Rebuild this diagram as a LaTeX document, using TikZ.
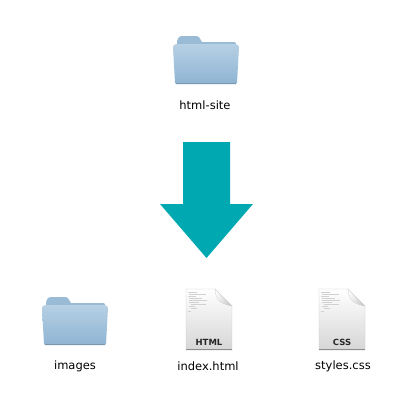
\documentclass[tikz,border=0pt]{standalone}
\usepackage{fontspec}
\setmainfont{DejaVu Sans}
\usepackage{xcolor}
\usetikzlibrary{positioning}
\definecolor{arrowteal}{HTML}{00A8B2}
\definecolor{foldertop}{HTML}{B6D0E4}
\definecolor{folderbot}{HTML}{8FB5D4}
\definecolor{foldertab}{HTML}{9ABBD6}
\definecolor{folderedge}{HTML}{7893AB}
\definecolor{pagebot}{HTML}{D6D6D6}
\definecolor{pageedge}{HTML}{C8C8C8}
\tikzset{
  filename/.style={font=\fontsize{11.5}{13}\selectfont, text=black, inner sep=0pt},
  filekind/.style={font=\fontsize{8.5}{10}\selectfont\bfseries, text=black!85, inner sep=0pt},
  foldericon/.pic={
    % back and tab, then the front
    \fill[foldertab] (3,7) .. controls (3,3) and (4,-1) .. (8,-1) -- (22,-1) .. controls (26,-1) and (26,3) .. (28,5) -- (60,5) .. controls (62,5) and (62,6) .. (62,8) -- (3,10) -- cycle;
    \fill[folderedge] (1,44) -- (63,44) -- (62,47) -- (2,47) -- cycle;
    \shade[top color=foldertop, bottom color=folderbot] (-1,10) .. controls (-1,8) and (1,7) .. (3,7) -- (61,7) .. controls (63,7) and (65,8) .. (65,10) -- (63,46) -- (1,46) -- cycle;
  },
  fileicon/.pic={
    \shade[top color=white, middle color=white!96!black, bottom color=pagebot, draw=pageedge, line width=0.3pt] (0,0) -- (29,0) -- (46,17) -- (46,61) -- (0,61) -- cycle;
    \fill[black!45] (0,60) -- (46,60) -- (46,61.3) -- (0,61.3) -- cycle;
    \shade[left color=white, right color=black!25, draw=pageedge, line width=0.3pt] (29,0) .. controls (30,9) and (31,14) .. (46,17) -- cycle;
    % tiny lines of source text
    \foreach \ya/\xa/\xb in {3/2/11, 5/3/20, 7/2/10, 9/3/16, 11/3/21, 13/3/13, 15/5/20, 17/3/9, 19/5/11, 22/2/5}
      \draw[black!18, line width=0.5pt] (\xa,\ya) -- (\xb,\ya);
  }
}
\begin{document}
\begin{tikzpicture}[x=1pt, y=-1pt]
  \useasboundingbox (0,0) rectangle (413,413);
  \fill[white] (0,0) rectangle (413,413);
  % folders
  \pic at (174,37) {foldericon};
  \pic at (43,298) {foldericon};
  % pages
  \pic at (186,289) {fileicon};
  \pic at (319,289) {fileicon};
  \node[filekind] (kindhtml) at (209,342) {HTML};
  \node[filekind] (kindcss) at (342,342) {CSS};
  % big arrow
  \fill[arrowteal] (183,142) -- (230,142) -- (230,204) -- (253,204) -- (206.5,258) -- (160,204) -- (183,204) -- cycle;
  % names
  \node[filename] (site) at (205,105) {html-site};
  \node[filename] (images) at (75,366) {images};
  \node[filename] (index) at (208,366) {index.html};
  \node[filename] (styles) at (343,366) {styles.css};
\end{tikzpicture}
\end{document}
